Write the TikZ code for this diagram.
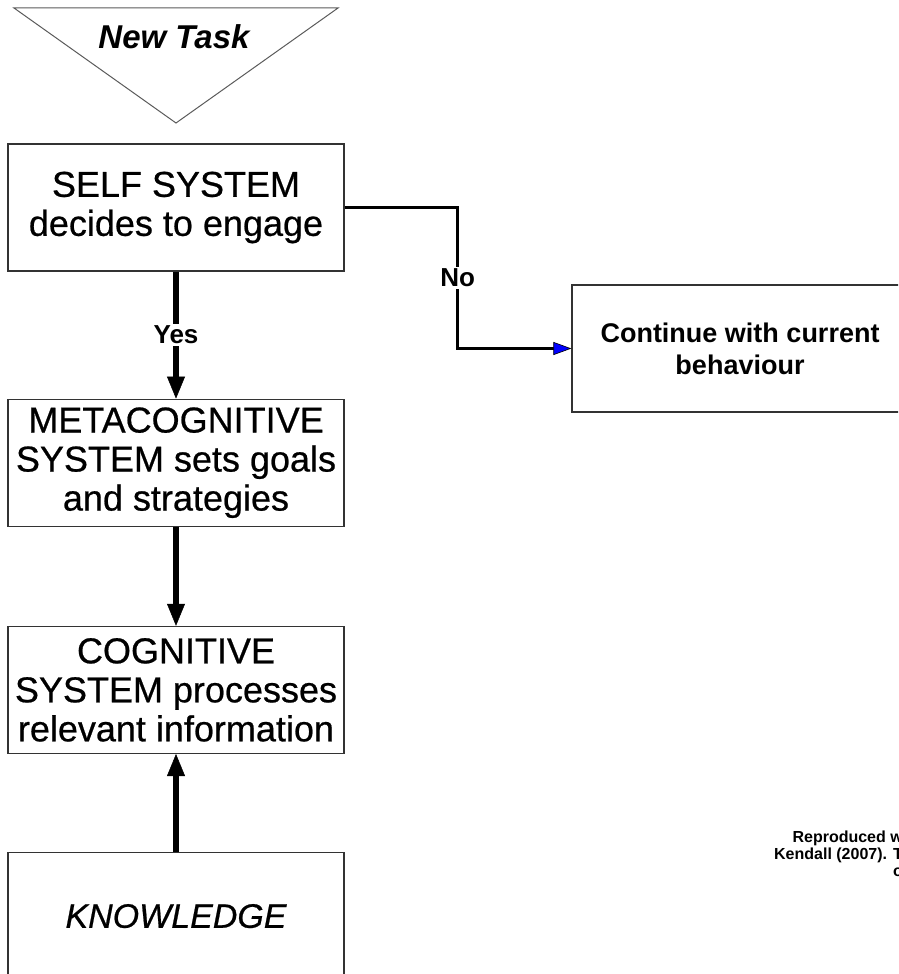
\documentclass[tikz,border=0pt]{standalone}
\usepackage{fontspec}
\setmainfont{Liberation Sans}
\newfontfamily\boxfont{Liberation Sans}[FakeBold=0.6]
\usepackage{tikz}
\usetikzlibrary{arrows.meta,positioning}
\usepackage{xcolor}
\definecolor{frame}{HTML}{333333}
\definecolor{tri}{HTML}{5A5A5A}
\definecolor{notip}{HTML}{0000FF}

\begin{document}
\begin{tikzpicture}[x=1pt,y=-1pt,
    box/.style={draw=frame,line width=1.2pt,minimum width=336pt,minimum height=127pt,inner sep=2pt,align=center,font=\boxfont\fontsize{36}{39}\selectfont},
    flow/.style={line width=6pt,-{Triangle[length=22pt,width=18pt,line width=0.5pt]}},
    lbl/.style={fill=white,inner sep=2pt,font=\bfseries\fontsize{26}{28}\selectfont}]
  \useasboundingbox (0,0) rectangle (898,974);
  \clip (0,0) rectangle (898,974);

  \draw[tri,line width=1pt] (14,8) -- (338,8) -- (176,123) -- cycle;
  \node[font=\bfseries\itshape\fontsize{33}{36}\selectfont] (task) at (174,37) {New Task};

  \node[box] (self) at (176,207.5) {SELF SYSTEM\\decides to engage};
  \node[box,below=127pt of self] (meta) {METACOGNITIVE\\SYSTEM sets goals\\and strategies};
  \node[box,below=99pt of meta] (cog) {COGNITIVE\\SYSTEM processes\\relevant information};
  \node[box,below=98pt of cog,font=\boxfont\itshape\fontsize{34}{38}\selectfont] (know) {KNOWLEDGE};
  \node[box,font=\bfseries\fontsize{27}{32}\selectfont] (cont) at (740,348.5) {Continue with current\\behaviour};

  \draw[flow] (self) -- node[lbl] {Yes} (meta);
  \draw[flow] (meta) -- (cog);
  \draw[flow] (know) -- (cog);
  \draw[line width=3.6pt,-{Triangle[length=18pt,width=13pt,fill=notip,line width=0.6pt]}]
    (self.east) -- ++(113,0) |- node[lbl,pos=0.25] {No} (cont);

  \node[anchor=north east,align=right,inner sep=0pt,font=\bfseries\fontsize{16}{17}\selectfont] (credit) at (903,831) {Reproduced w\\Kendall (2007). T\\o};
\end{tikzpicture}
\end{document}
